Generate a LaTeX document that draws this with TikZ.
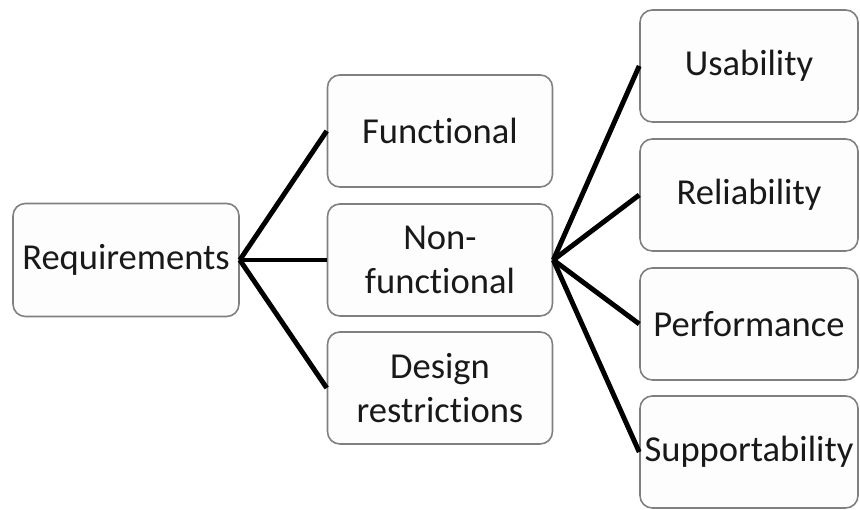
\documentclass[tikz,border=0pt]{standalone}
\usepackage{fontspec}
\setmainfont{Carlito}[Ligatures={NoCommon}]
\usepackage{xcolor}
\definecolor{boxline}{RGB}{128,128,128}
\definecolor{boxfill}{RGB}{253,253,253}
\definecolor{boxtext}{RGB}{25,25,25}

\begin{document}
\begin{tikzpicture}[
  reqbox/.style={draw=boxline, line width=0.9pt, fill=boxfill, rounded corners=7pt,
    text=boxtext, align=center, font=\fontsize{20.8}{25}\selectfont,
    minimum width=4.5cm, minimum height=2.24cm, inner sep=0pt},
  leafbox/.style={reqbox, minimum width=4.36cm},
  link/.style={line width=2.8pt, black}
]
\useasboundingbox (0,0) rectangle (17.2,10.2);

% Root
\node[reqbox, minimum width=4.52cm, minimum height=2.26cm] (req) at (2.52,5.0) {Requirements};

% Middle column
\node[reqbox] (func)   at (8.80,7.58) {Functional};
\node[reqbox] (nonfun) at (8.80,5.0)  {Non-\\functional};
\node[reqbox] (design) at (8.80,2.44) {Design\\restrictions};

% Right column
\node[leafbox] (usab) at (14.98,8.88) {Usability};
\node[leafbox] (reli) at (14.98,6.30) {Reliability};
\node[leafbox] (perf) at (14.98,3.72) {Performance};
\node[leafbox] (supp) at (14.98,1.16) {Supportability};

% Links
\foreach \n in {func,nonfun,design}
  \draw[link] (req.east) -- (\n.west);
\foreach \n in {usab,reli,perf,supp}
  \draw[link] (nonfun.east) -- (\n.west);

\end{tikzpicture}
\end{document}
